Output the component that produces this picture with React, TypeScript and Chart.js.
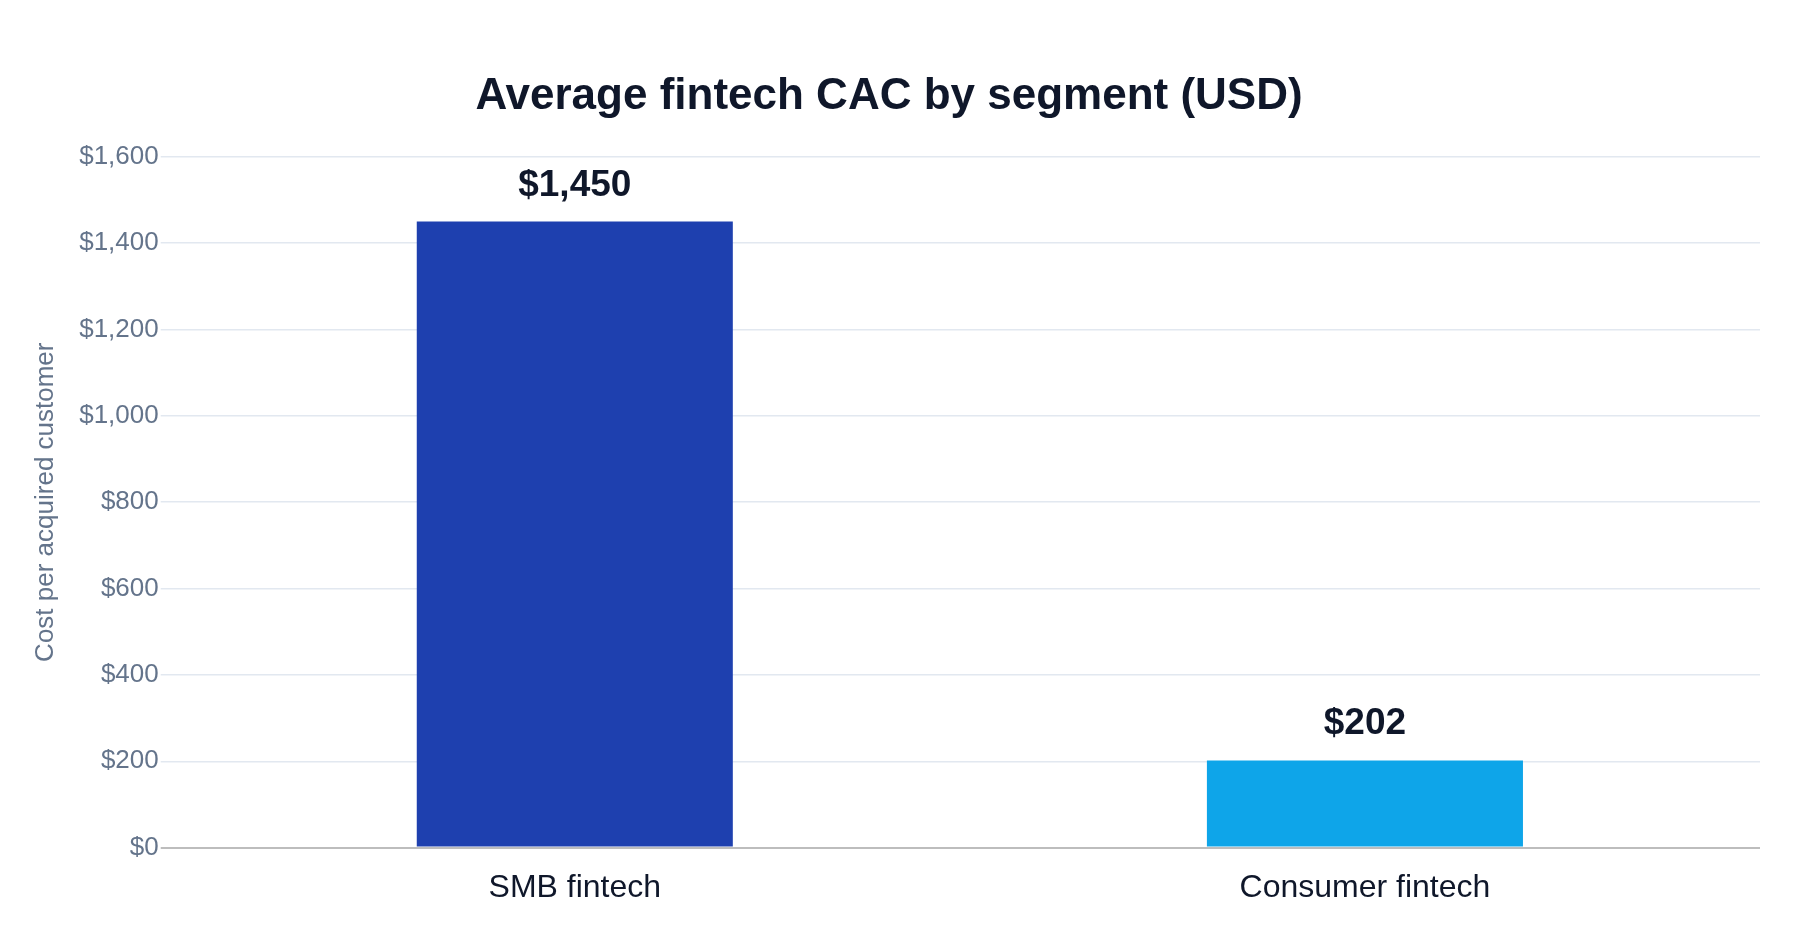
import { useEffect, useRef } from 'react';
import { Chart, registerables } from 'chart.js';

Chart.register(...registerables);

const segments = ['SMB fintech', 'Consumer fintech'];
const cacUsd = [1450, 202];
const segmentColors = ['#1e40af', '#0ea5e9'];
const yMin = 0;
const yMax = 1600;
const yStep = 200;

const FONT = "'Liberation Sans', Arial, sans-serif";

const fmtUsd = (v: number) => '$' + Number(v).toLocaleString('en-US');

// draws the value above each bar
const valueLabels = {
  id: 'valueLabels',
  afterDatasetsDraw(chart: Chart) {
    const { ctx } = chart;
    const meta = chart.getDatasetMeta(0);
    ctx.save();
    ctx.font = `bold 37px ${FONT}`;
    ctx.fillStyle = '#0f172a';
    ctx.textAlign = 'center';
    ctx.textBaseline = 'alphabetic';
    meta.data.forEach((bar: any, i: number) => {
      ctx.fillText(fmtUsd(cacUsd[i]), bar.x, bar.y - 26);
    });
    ctx.restore();
  },
};

export default function App() {
  const chartRef = useRef<HTMLCanvasElement>(null);
  const chartInstance = useRef<Chart | null>(null);

  useEffect(() => {
    document.body.style.margin = '0';
    if (!chartRef.current) return;
    const ctx = chartRef.current.getContext('2d');
    if (!ctx) return;

    if (chartInstance.current) {
      chartInstance.current.destroy();
    }

    chartInstance.current = new Chart(ctx, {
      type: 'bar',
      data: {
        labels: segments,
        datasets: [{
          label: 'Average CAC',
          data: cacUsd,
          backgroundColor: segmentColors,
          borderWidth: 0,
          categoryPercentage: 1,
          barPercentage: 0.4,
        }]
      },
      plugins: [valueLabels],
      options: {
        responsive: true,
        maintainAspectRatio: false,
        animation: false,
        layout: {
          padding: { top: 0, left: 18, right: 40, bottom: 12 },
        },
        plugins: {
          legend: { display: false },
          tooltip: { enabled: false },
          title: {
            display: true,
            text: 'Average fintech CAC by segment (USD)',
            color: '#0f172a',
            font: { family: FONT, size: 44, weight: 'bold' },
            padding: { top: 70, bottom: 34 },
          },
        },
        scales: {
          x: {
            grid: { display: false, drawTicks: false },
            border: { display: false },
            ticks: {
              color: '#0f172a',
              font: { family: FONT, size: 32 },
              padding: 21,
            },
          },
          y: {
            min: yMin,
            max: yMax,
            border: { display: false },
            grid: {
              color: (c: any) => (c.tick && c.tick.value === 0 ? '#bdbdbd' : '#e2e8f0'),
              lineWidth: (c: any) => (c.tick && c.tick.value === 0 ? 2 : 1.5),
              tickLength: 19,
            },
            ticks: {
              stepSize: yStep,
              color: '#64748b',
              font: { family: FONT, size: 26 },
              padding: 2,
              callback: (v: any) => fmtUsd(v),
            },
            title: {
              display: true,
              text: 'Cost per acquired customer',
              color: '#64748b',
              font: { family: FONT, size: 26 },
              padding: { top: 12, bottom: 16 },
            },
          },
        },
      },
    });

    return () => {
      if (chartInstance.current) {
        chartInstance.current.destroy();
        chartInstance.current = null;
      }
    };
  }, []);

  return (
    <div style={{ position: 'relative', width: 1800, height: 940, background: '#fff' }}>
      <canvas ref={chartRef}></canvas>
    </div>
  );
}
